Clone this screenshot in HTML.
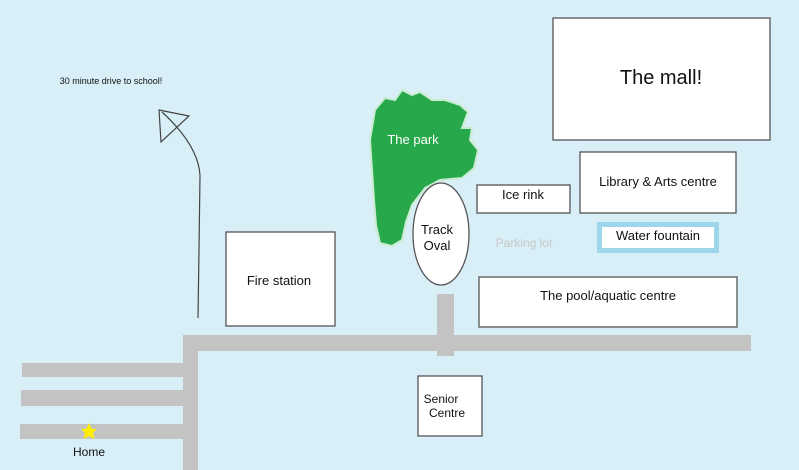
<!DOCTYPE html>
<html><head><meta charset="utf-8"><style>
html,body{margin:0;padding:0;background:#d8eff7;}
svg{display:block}
text{font-family:"Liberation Sans",sans-serif;fill:#111;}
</style></head><body>
<svg width="799" height="470" viewBox="0 0 799 470" xmlns="http://www.w3.org/2000/svg">
<rect width="799" height="470" fill="#d8eff7"/>
<!-- roads -->
<g fill="#c3c3c3">
<rect x="183" y="335" width="568" height="16"/>
<rect x="183" y="335" width="15" height="135"/>
<rect x="22" y="363" width="161" height="14"/>
<rect x="21" y="390" width="162" height="16"/>
<rect x="20" y="424" width="163" height="15"/>
<rect x="437" y="294" width="17" height="62"/>
</g>
<!-- buildings -->
<g fill="#fff" stroke="#555" stroke-width="1.3">
<rect x="553" y="18" width="217" height="122"/>
<rect x="580" y="152" width="156" height="61"/>
<rect x="477" y="185" width="93" height="28"/>
<rect x="479" y="277" width="258" height="50"/>
<rect x="226" y="232" width="109" height="94"/>
<rect x="418" y="376" width="64" height="60"/>
</g>
<rect x="599.5" y="224.5" width="117" height="26" fill="#fff" stroke="#9dd6ea" stroke-width="5"/>
<!-- park -->
<path d="M375,110 L385,98 L395,100 L402,90 L412,95 L420,92 L432,100 L445,100 L460,105 L468,112 L462,128 L472,128 L470,140 L478,150 L474,168 L462,178 L440,180 L425,188 L412,205 L406,222 L402,240 L392,246 L380,243 L376,225 L374,200 L372,170 L370,140 Z" fill="#27a84a" stroke="#c8ecd0" stroke-width="2"/>
<ellipse cx="441" cy="234" rx="28" ry="51" fill="#fff" stroke="#555" stroke-width="1.3"/>
<!-- arrow -->
<path d="M198,318 L199,250 L200,175 Q198,145 162,112" fill="none" stroke="#444" stroke-width="1.2"/>
<path d="M159,110 L189,116 L161,142 Z" fill="none" stroke="#444" stroke-width="1.2"/>
<!-- star -->
<polygon points="89,423 91.5,428.5 97,429 93,433 94.5,439 89,436 83.5,439 85,433 81,429 86.5,428.5" fill="#ffee00"/>
<!-- labels -->
<text x="661" y="84" font-size="20" text-anchor="middle">The mall!</text>
<text x="658" y="186" font-size="13" text-anchor="middle">Library &amp; Arts centre</text>
<text x="523" y="199" font-size="13" text-anchor="middle">Ice rink</text>
<text x="658" y="240" font-size="13" text-anchor="middle">Water fountain</text>
<text x="608" y="300" font-size="13" text-anchor="middle">The pool/aquatic centre</text>
<text x="279" y="285" font-size="13" text-anchor="middle">Fire station</text>
<text x="441" y="403" font-size="12" text-anchor="middle">Senior</text>
<text x="447" y="417" font-size="12" text-anchor="middle">Centre</text>
<text x="437" y="234" font-size="13" text-anchor="middle">Track</text>
<text x="437" y="250" font-size="13" text-anchor="middle">Oval</text>
<text x="524" y="247" font-size="12" text-anchor="middle" style="fill:#c8c8c8">Parking lot</text>
<text x="413" y="144" font-size="13" text-anchor="middle" style="fill:#fff">The park</text>
<text x="111" y="84" font-size="9" text-anchor="middle">30 minute drive to school!</text>
<text x="89" y="456" font-size="12" text-anchor="middle">Home</text>
</svg>
</body></html>
